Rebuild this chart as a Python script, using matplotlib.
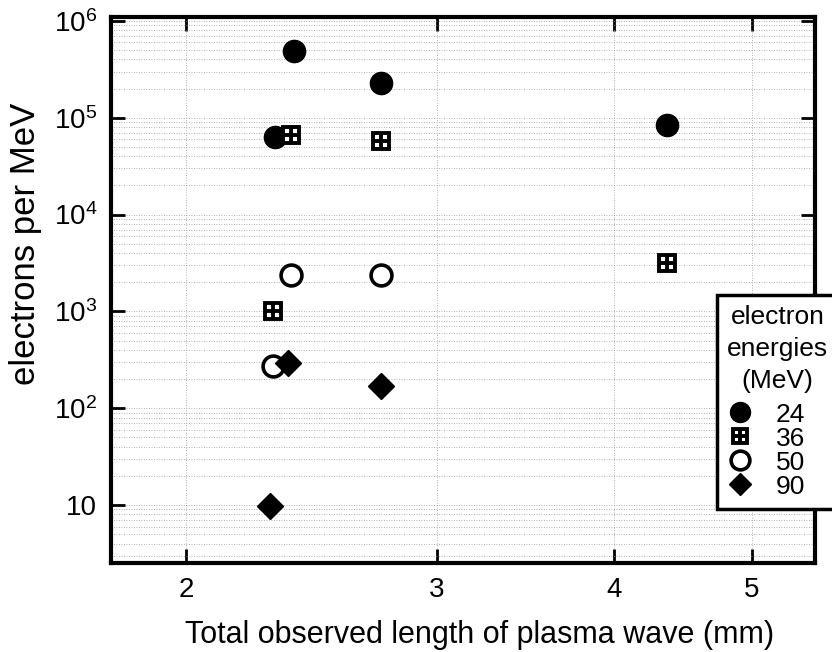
import numpy as np
import matplotlib
matplotlib.use('Agg')
import matplotlib.pyplot as plt
from matplotlib.ticker import FixedLocator, FixedFormatter, LogLocator, NullFormatter
from matplotlib.legend_handler import HandlerTuple

plt.rcParams['font.family'] = ['Liberation Sans', 'DejaVu Sans']
plt.rcParams['mathtext.fontset'] = 'custom'
plt.rcParams['mathtext.rm'] = 'Liberation Sans'

# electron yield per energy bin vs. plasma wave length
x24 = [2.38, 2.74, 2.31, 4.36]
y24 = [4.9e5, 2.3e5, 6.3e4, 8.5e4]
x36 = [2.37, 2.74, 2.30, 4.36]
y36 = [6.7e4, 5.7e4, 1.0e3, 3.2e3]
x50 = [2.37, 2.74, 2.30]
y50 = [2.4e3, 2.4e3, 2.7e2]
x90 = [2.36, 2.74, 2.29]
y90 = [2.9e2, 1.7e2, 9.7]

xticks = [2, 3, 4, 5]
xticklabels = ['2', '3', '4', '5']
yticks = [1e1, 1e2, 1e3, 1e4, 1e5, 1e6]
yticklabels = ['10', r'$\mathregular{10^2}$', r'$\mathregular{10^3}$',
               r'$\mathregular{10^4}$', r'$\mathregular{10^5}$', r'$\mathregular{10^6}$']

fig = plt.figure(figsize=(8.32, 6.52), dpi=100)
ax = fig.add_axes([0.1334, 0.1365, 0.9796 - 0.1334, 0.974 - 0.1365])
ax.set_xscale('log')
ax.set_yscale('log')
ax.set_xlim(1.77, 5.54)
ax.set_ylim(2.52, 1.1e6)

# faint dotted grid (scanned look)
ax.yaxis.set_minor_locator(LogLocator(base=10, subs=np.arange(2, 10)))
ax.yaxis.set_minor_formatter(NullFormatter())
ax.grid(True, which='both', axis='y', color='0.6', lw=0.6, ls=(0, (1, 2)))
ax.grid(True, which='major', axis='x', color='0.6', lw=0.6, ls=(0, (1, 2)))
ax.set_axisbelow(True)

ax.xaxis.set_major_locator(FixedLocator(xticks))
ax.xaxis.set_major_formatter(FixedFormatter(xticklabels))
ax.xaxis.set_minor_locator(FixedLocator([]))
ax.yaxis.set_major_locator(FixedLocator(yticks))
ax.yaxis.set_major_formatter(FixedFormatter(yticklabels))

ax.tick_params(which='major', direction='in', length=10, width=2,
               top=True, right=True, labelsize=20, pad=10)
ax.tick_params(which='minor', length=0)
for s in ax.spines.values():
    s.set_linewidth(3)

h24 = ax.plot(x24, y24, 'o', ms=16, color='black', mec='black', ls='none')[0]
hs = ax.plot(x36, y36, 's', ms=11.5, mfc='white', mec='black', mew=2.8, ls='none')[0]
hp = ax.plot(x36, y36, '+', ms=11.5, mec='black', mew=2.8, ls='none')[0]
h50 = ax.plot(x50, y50, 'o', ms=15, mfc='white', mec='black', mew=2.6, ls='none')[0]
h90 = ax.plot(x90, y90, 'D', ms=13, color='black', ls='none')[0]

ax.set_xlabel('Total observed length of plasma wave (mm)', fontsize=22)
ax.set_ylabel('electrons per MeV', fontsize=25)
ax.xaxis.set_label_coords(0.523, -0.105)
ax.yaxis.set_label_coords(-0.098, 0.584)

leg = fig.legend([h24, (hs, hp), h50, h90], ['24', '36', '50', '90'],
                 title='electron\nenergies\n(MeV)', title_fontsize=19, fontsize=19,
                 handler_map={tuple: HandlerTuple(ndivide=1)},
                 loc='upper left', bbox_to_anchor=(717 / 832, 1 - 295 / 652),
                 bbox_transform=fig.transFigure, fancybox=False, framealpha=1,
                 edgecolor='black', borderpad=0.38, labelspacing=0.0,
                 handletextpad=0.85, handlelength=1.0, borderaxespad=0,
                 markerscale=0.9, alignment='left')
leg.get_frame().set_linewidth(2.5)
leg.get_title().set_multialignment('center')
leg.get_title().set_linespacing(1.42)
leg._legend_box.sep = 7

fig.savefig('out.png', dpi=100)
